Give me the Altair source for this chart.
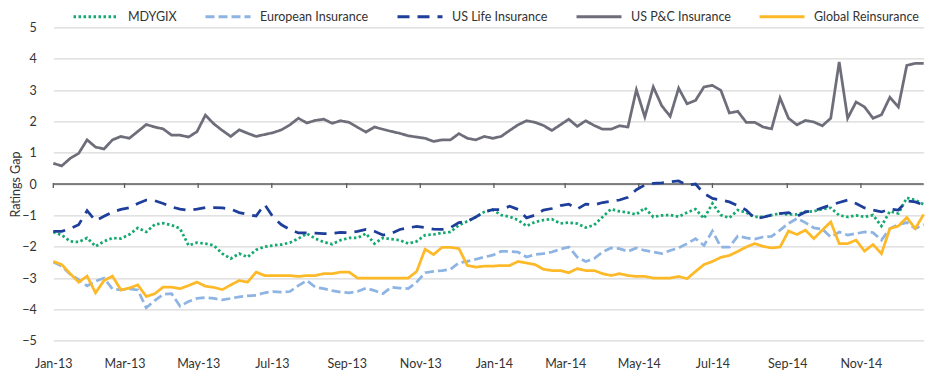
import altair as alt
import pandas as pd

FONT = "Lato"

series_names = ["MDYGIX", "European Insurance", "US Life Insurance",
                "US P&C Insurance", "Global Reinsurance"]
series_colors = ["#13A96F", "#8DB4E2", "#1E3E9B", "#6D6E7A", "#FDB927"]
series_dashes = [[2.5, 2.5], [9, 4], [12, 8], [1, 0], [1, 0]]

start_date = "2013-01-04"
end_date = "2014-12-26"
n_weeks = 104

tick_dates = ["2013-01-04", "2013-03-04", "2013-05-04", "2013-07-04",
              "2013-09-04", "2013-11-04", "2014-01-04", "2014-03-04",
              "2014-05-04", "2014-07-04", "2014-09-04", "2014-11-04"]
y_ticks = [-5, -4, -3, -2, -1, 0, 1, 2, 3, 4, 5]

mdygix = [
    -1.53, -1.63, -1.83, -1.85, -1.72, -1.99, -1.83, -1.72, -1.74, -1.61,
    -1.40, -1.53, -1.29, -1.25, -1.31, -1.42, -1.96, -1.87, -1.90, -1.96,
    -2.22, -2.38, -2.22, -2.33, -2.10, -2.00, -1.96, -1.93, -1.87, -1.74,
    -1.58, -1.74, -1.85, -1.92, -1.79, -1.72, -1.72, -1.58, -1.90, -1.72,
    -1.76, -1.79, -1.90, -1.83, -1.63, -1.61, -1.56, -1.53, -1.31, -1.19,
    -1.05, -0.89, -0.82, -0.99, -1.04, -1.15, -1.34, -1.21, -1.15, -1.12,
    -1.26, -1.23, -1.26, -1.39, -1.31, -1.05, -0.80, -0.87, -0.91, -0.97,
    -0.76, -1.05, -1.00, -0.99, -1.04, -0.91, -0.80, -1.10, -0.62, -0.99,
    -1.08, -0.83, -0.91, -1.05, -1.05, -0.99, -0.94, -0.97, -0.97, -0.89,
    -0.87, -0.80, -0.76, -1.00, -1.05, -1.00, -1.05, -0.99, -1.34, -0.87,
    -0.94, -0.44, -0.51, -0.65]

european = [
    -2.49, -2.62, -2.88, -3.05, -3.25, -3.10, -3.00, -3.35, -3.38, -3.35,
    -3.38, -3.95, -3.72, -3.52, -3.50, -3.90, -3.75, -3.65, -3.62, -3.65,
    -3.70, -3.65, -3.60, -3.57, -3.55, -3.47, -3.43, -3.45, -3.43, -3.24,
    -3.08, -3.29, -3.34, -3.40, -3.45, -3.47, -3.43, -3.32, -3.40, -3.50,
    -3.29, -3.32, -3.34, -3.13, -2.83, -2.79, -2.76, -2.72, -2.51, -2.47,
    -2.40, -2.33, -2.27, -2.15, -2.15, -2.17, -2.33, -2.25, -2.22, -2.17,
    -2.08, -2.01, -2.33, -2.47, -2.38, -2.17, -2.04, -2.06, -2.15, -2.04,
    -2.12, -2.17, -2.22, -2.12, -2.04, -1.90, -1.74, -1.96, -1.50, -2.01,
    -2.01, -1.66, -1.72, -1.76, -1.69, -1.67, -1.47, -1.26, -1.10, -1.23,
    -1.40, -1.44, -1.69, -1.53, -1.63, -1.58, -1.53, -1.55, -1.79, -1.42,
    -1.29, -1.23, -1.42, -1.29]

us_life = [
    -1.51, -1.51, -1.42, -1.30, -0.85, -1.17, -1.03, -0.89, -0.81, -0.76,
    -0.62, -0.51, -0.53, -0.62, -0.73, -0.80, -0.84, -0.80, -0.75, -0.75,
    -0.76, -0.80, -0.91, -0.97, -1.02, -0.65, -1.05, -1.30, -1.45, -1.56,
    -1.56, -1.57, -1.58, -1.58, -1.54, -1.55, -1.51, -1.45, -1.51, -1.63,
    -1.58, -1.45, -1.40, -1.35, -1.39, -1.44, -1.45, -1.39, -1.23, -1.19,
    -1.05, -0.89, -0.82, -0.81, -0.71, -0.81, -1.08, -0.99, -0.83, -0.78,
    -0.69, -0.64, -0.80, -0.64, -0.67, -0.59, -0.55, -0.51, -0.42, -0.18,
    -0.03, 0.02, 0.04, 0.07, 0.10, -0.03, 0.00, -0.30, -0.46, -0.51,
    -0.57, -0.69, -0.83, -1.10, -1.06, -0.99, -0.94, -0.91, -1.03, -0.89,
    -0.85, -0.76, -0.67, -0.59, -0.51, -0.62, -0.76, -0.83, -0.89, -0.80,
    -0.83, -0.54, -0.57, -0.67]

us_pc = [
    0.66, 0.58, 0.82, 0.98, 1.41, 1.18, 1.12, 1.41, 1.52, 1.46,
    1.68, 1.90, 1.82, 1.76, 1.56, 1.56, 1.50, 1.67, 2.20, 1.92,
    1.71, 1.52, 1.73, 1.62, 1.52, 1.58, 1.64, 1.73, 1.89, 2.10,
    1.95, 2.03, 2.07, 1.94, 2.02, 1.97, 1.81, 1.66, 1.82, 1.75,
    1.68, 1.62, 1.54, 1.50, 1.46, 1.36, 1.41, 1.41, 1.61, 1.46,
    1.41, 1.52, 1.46, 1.52, 1.71, 1.89, 2.02, 1.97, 1.87, 1.71,
    1.89, 2.07, 1.84, 2.02, 1.87, 1.75, 1.75, 1.86, 1.82, 3.01,
    2.14, 3.10, 2.50, 2.16, 3.06, 2.56, 2.67, 3.10, 3.15, 2.99,
    2.27, 2.32, 1.97, 1.97, 1.82, 1.76, 2.75, 2.10, 1.89, 2.03,
    1.98, 1.86, 2.10, 3.90, 2.10, 2.62, 2.46, 2.10, 2.21, 2.77,
    2.46, 3.79, 3.85, 3.85]

global_re = [
    -2.47, -2.57, -2.86, -3.13, -2.94, -3.47, -3.08, -2.94, -3.38, -3.32,
    -3.22, -3.59, -3.50, -3.29, -3.29, -3.34, -3.24, -3.13, -3.26, -3.30,
    -3.37, -3.22, -3.08, -3.13, -2.81, -2.92, -2.92, -2.92, -2.92, -2.95,
    -2.92, -2.92, -2.86, -2.86, -2.81, -2.81, -3.00, -3.00, -3.00, -3.00,
    -3.00, -3.00, -3.00, -2.79, -2.08, -2.25, -2.02, -2.02, -2.06, -2.60,
    -2.65, -2.62, -2.62, -2.60, -2.60, -2.47, -2.52, -2.57, -2.72, -2.76,
    -2.76, -2.83, -2.70, -2.76, -2.76, -2.86, -2.92, -2.86, -2.92, -2.95,
    -2.95, -3.00, -3.00, -3.00, -2.95, -3.02, -2.79, -2.57, -2.47, -2.34,
    -2.28, -2.15, -2.01, -1.90, -1.99, -2.04, -2.01, -1.50, -1.61, -1.47,
    -1.74, -1.47, -1.21, -1.90, -1.90, -1.79, -2.14, -1.93, -2.22, -1.42,
    -1.34, -1.07, -1.42, -0.97]

all_values = [mdygix, european, us_life, us_pc, global_re]

dates = pd.date_range(start_date, periods=n_weeks, freq="7D").strftime("%Y-%m-%d")
rows = []
for name, vals in zip(series_names, all_values):
    for d, v in zip(dates, vals):
        rows.append({"date": d, "value": v, "series": name})
df = pd.DataFrame(rows)


def dt(s):
    return alt.DateTime(year=int(s[:4]), month=int(s[5:7]), date=int(s[8:10]), utc=True)


x_enc = alt.X(
    "date:T",
    scale=alt.Scale(type="utc", domain=[dt(start_date), dt(end_date)]),
    axis=alt.Axis(values=[dt(s) for s in tick_dates], format="%b-%y", title=None,
                  grid=False, domain=False, ticks=False, tickSize=0,
                  labelPadding=17, labelFlush=False, labelOverlap=False,
                  labelFont=FONT, labelFontSize=12.5, labelColor="#333333"),
)
y_enc = alt.Y(
    "value:Q",
    scale=alt.Scale(domain=[-5, 5], nice=False, zero=False),
    axis=alt.Axis(values=y_ticks, title="Ratings Gap", grid=True,
                  gridColor="#D9D9D9", gridWidth=1.3, domain=False, ticks=False,
                  tickSize=0, labelPadding=17, labelFont=FONT, labelFontSize=12.5,
                  labelColor="#333333", titleFont=FONT, titleFontSize=12.5,
                  titleFontWeight="normal", titleColor="#333333",
                  titleX=-37.5, titleY=156.65, titleAngle=270,
                  titleAlign="center", titleBaseline="middle"),
)

legend = alt.Legend(title=None, orient="none", legendX=18.7, legendY=-35,
                    direction="horizontal", symbolType="stroke", symbolSize=2025,
                    symbolStrokeWidth=3, labelFont=FONT, labelFontSize=12.5,
                    labelColor="#333333", columnPadding=22, labelOffset=8,
                    padding=0)

zero_df = pd.DataFrame({"value": [0]})
zero_rule = alt.Chart(zero_df).mark_rule(color="#5A5A5A", strokeWidth=1.5).encode(y=y_enc)

tick_df = pd.DataFrame({"date": tick_dates, "value": [0] * len(tick_dates)})
zero_ticks = alt.Chart(tick_df).mark_tick(
    orient="vertical", size=5, thickness=1.3, color="#5A5A5A", yOffset=1.5, opacity=1
).encode(x=x_enc, y=y_enc)

lines = alt.Chart(df).mark_line(strokeWidth=2.75).encode(
    x=x_enc,
    y=y_enc,
    color=alt.Color("series:N", scale=alt.Scale(domain=series_names, range=series_colors),
                    legend=legend),
    strokeDash=alt.StrokeDash("series:N",
                              scale=alt.Scale(domain=series_names, range=series_dashes),
                              legend=legend),
)

chart = alt.layer(zero_rule, zero_ticks, lines).properties(
    width=870.4,
    height=313.3,
    autosize=alt.AutoSizeParams(type="none"),
    padding={"left": 45.3, "top": 19.4, "right": 1.3, "bottom": 32.3},
    background="white",
).configure_view(stroke=None)

chart.save("out.html", embed_options={"renderer": "svg", "actions": False})
